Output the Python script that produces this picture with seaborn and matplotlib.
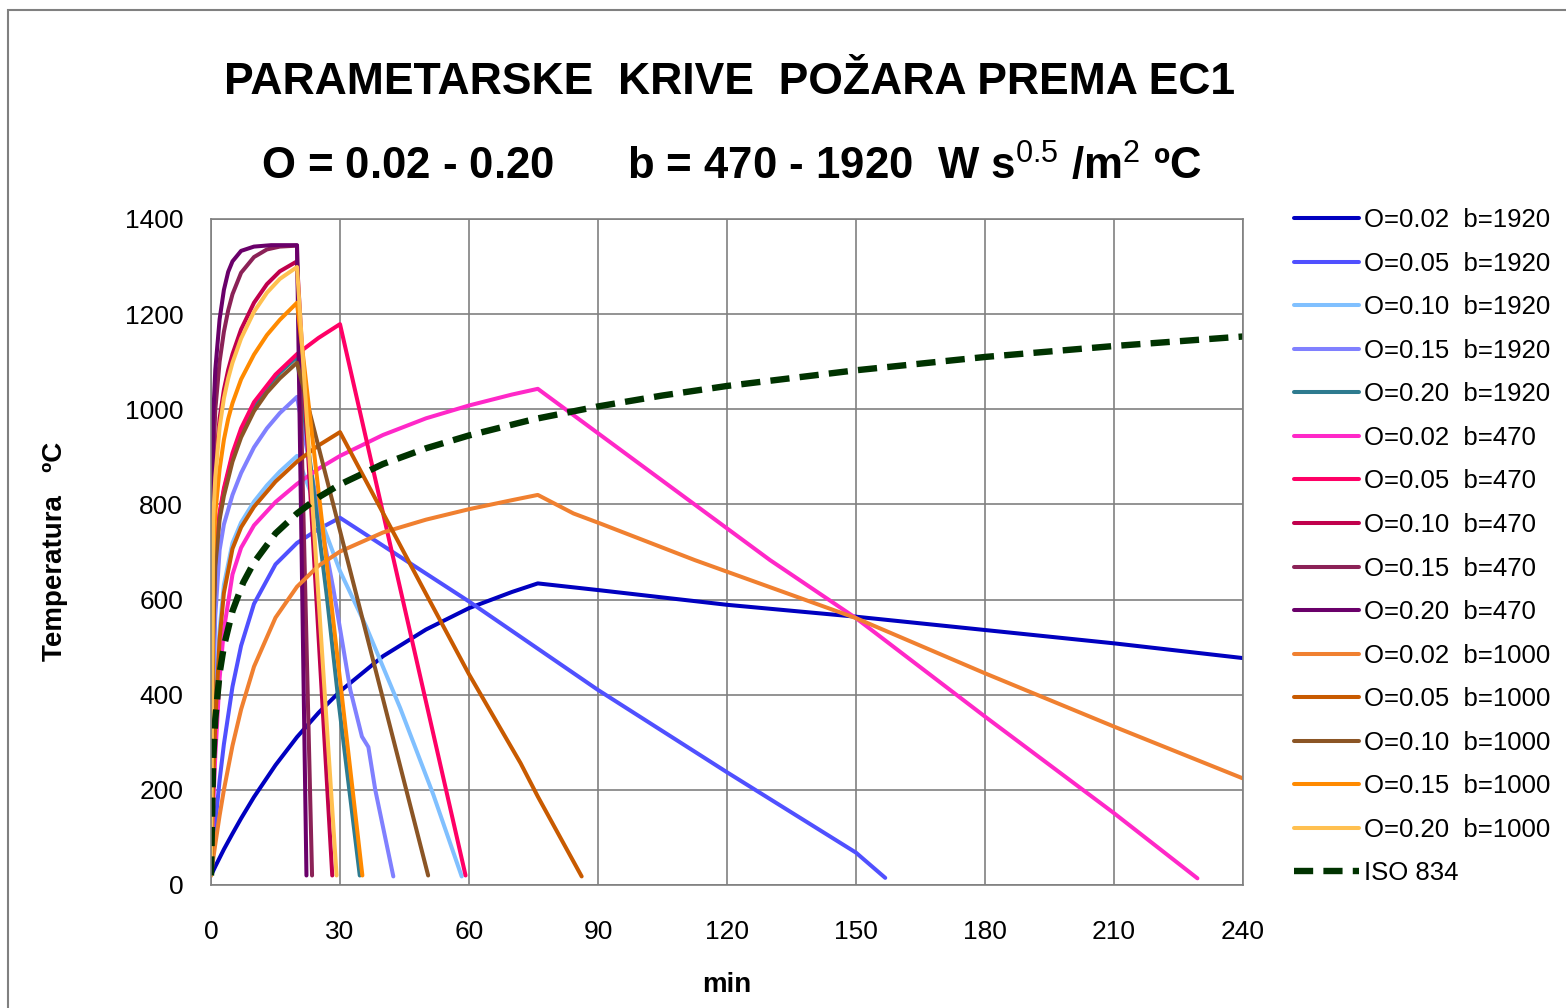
import pandas as pd
import seaborn as sns
import matplotlib.pyplot as plt
from matplotlib.patches import Rectangle

# time (min) / temperature (C)
t_002_1920 = [0, 1, 2, 3, 5, 7, 10, 15, 20, 25, 30, 40, 50, 60, 70, 76, 90, 120, 150, 180, 210, 240]
T_002_1920 = [20, 39, 57, 75, 108, 140, 185, 252, 311, 362, 407, 481, 537, 582, 616, 634, 620, 589, 564, 536, 508, 477]

t_005_1920 = [0, 0.5, 1, 2, 3, 5, 7, 10, 15, 20, 25, 30, 60, 90, 120, 150, 156.8]
T_005_1920 = [20, 77, 129, 220, 296, 417, 503, 591, 674, 719, 748, 772, 596, 410, 237, 68, 15]

t_010_1920 = [0, 0.5, 1, 2, 3, 5, 7, 10, 13, 16, 20, 30, 36, 44, 51.7, 58.3]
T_010_1920 = [20, 220, 362, 537, 631, 719, 762, 806, 840, 869, 902, 660, 545, 372, 190, 18]

t_015_1920 = [0, 0.5, 1, 2, 3, 5, 7, 10, 13, 16, 20, 28.5, 32.4, 35.1, 36.6, 38.2, 42.4]
T_015_1920 = [20, 391, 566, 704, 758, 820, 866, 920, 960, 992, 1026, 620, 410, 312, 290, 200, 18]

t_020_1920 = [0, 0.5, 1, 2, 3, 5, 7, 10, 13, 16, 20, 26.9, 29.6, 34.6]
T_020_1920 = [20, 537, 685, 778, 829, 902, 954, 1008, 1046, 1077, 1110, 610, 390, 20]

t_002_470 = [0, 0.5, 1, 2, 3, 5, 7, 10, 15, 20, 25, 30, 40, 50, 60, 70, 76, 130, 150, 180, 210, 229.4]
T_002_470 = [20, 161, 273, 434, 537, 653, 709, 756, 805, 843, 875, 902, 946, 981, 1008, 1031, 1043, 683, 561, 354, 151, 14]

t_005_470 = [0, 0.5, 1, 2, 3, 5, 7, 10, 15, 20, 25, 30, 59.2]
T_005_470 = [20, 548, 692, 783, 834, 908, 960, 1015, 1073, 1116, 1150, 1179, 20]

t_010_470 = [0, 0.5, 1, 2, 3, 4, 5, 7, 10, 13, 16, 20, 28.2]
T_010_470 = [20, 783, 875, 981, 1041, 1083, 1116, 1168, 1224, 1263, 1290, 1311, 20]

t_015_470 = [0, 0.5, 1, 2, 3, 4, 5, 7, 10, 13, 16, 20, 23.5]
T_015_470 = [20, 893, 999, 1100, 1163, 1208, 1242, 1287, 1320, 1336, 1342, 1344, 20]

t_020_470 = [0, 0.5, 1, 2, 3, 4, 5, 7, 10, 14, 20, 22.2]
T_020_470 = [20, 981, 1083, 1189, 1251, 1289, 1311, 1333, 1342, 1345, 1345, 20]

t_002_1000 = [0, 0.5, 1, 2, 3, 5, 7, 10, 15, 20, 25, 30, 40, 50, 60, 70, 76, 84.3, 90.5, 112.5, 150, 180, 210, 240]
T_002_1000 = [20, 54, 86, 146, 200, 293, 369, 459, 562, 627, 671, 701, 741, 768, 790, 809, 820, 781, 760, 683, 561, 445, 333, 224]

t_005_1000 = [0, 0.5, 1, 2, 3, 5, 7, 10, 15, 20, 25, 30, 40, 50, 60, 72, 76, 86.2]
T_005_1000 = [20, 206, 343, 517, 614, 707, 752, 795, 848, 890, 924, 952, 782, 612, 443, 256, 186, 18]

t_010_1000 = [0, 0.5, 1, 2, 3, 5, 7, 10, 13, 16, 20, 50.5]
T_010_1000 = [20, 517, 671, 768, 818, 890, 941, 996, 1035, 1065, 1098, 20]

t_015_1000 = [0, 0.5, 1, 2, 3, 4, 5, 7, 10, 13, 16, 20, 35.2]
T_015_1000 = [20, 691, 782, 874, 936, 980, 1013, 1063, 1115, 1156, 1188, 1224, 20]

t_020_1000 = [0, 0.5, 1, 2, 3, 4, 5, 7, 10, 13, 16, 20, 29.2]
T_020_1000 = [20, 768, 857, 962, 1023, 1065, 1098, 1149, 1205, 1245, 1274, 1299, 20]

t_iso = [0, 0.5, 1, 2, 3, 5, 7.5, 10, 15, 20, 25, 30, 40, 50, 60, 75, 90, 105, 120, 150, 180, 210, 240]
T_iso = [20, 261, 349, 445, 502, 576, 636, 678, 739, 781, 815, 842, 885, 918, 945, 979, 1006, 1029, 1049, 1082, 1110, 1133, 1153]

series = [
    ("O=0.02  b=1920", t_002_1920, T_002_1920, "#0000C0"),
    ("O=0.05  b=1920", t_005_1920, T_005_1920, "#5050FF"),
    ("O=0.10  b=1920", t_010_1920, T_010_1920, "#80C0FF"),
    ("O=0.15  b=1920", t_015_1920, T_015_1920, "#8080FF"),
    ("O=0.20  b=1920", t_020_1920, T_020_1920, "#2E7B8F"),
    ("O=0.02  b=470", t_002_470, T_002_470, "#FF28C8"),
    ("O=0.05  b=470", t_005_470, T_005_470, "#FF0066"),
    ("O=0.10  b=470", t_010_470, T_010_470, "#C0004C"),
    ("O=0.15  b=470", t_015_470, T_015_470, "#8B2257"),
    ("O=0.20  b=470", t_020_470, T_020_470, "#6A006A"),
    ("O=0.02  b=1000", t_002_1000, T_002_1000, "#F08030"),
    ("O=0.05  b=1000", t_005_1000, T_005_1000, "#C85A00"),
    ("O=0.10  b=1000", t_010_1000, T_010_1000, "#8B5525"),
    ("O=0.15  b=1000", t_015_1000, T_015_1000, "#FF8A00"),
    ("O=0.20  b=1000", t_020_1000, T_020_1000, "#FFC050"),
]

sns.set_theme(style="white")
plt.rcParams['font.family'] = ['Liberation Sans', 'DejaVu Sans']
plt.rcParams['text.color'] = 'black'
plt.rcParams['mathtext.fontset'] = 'custom'
plt.rcParams['mathtext.rm'] = 'Liberation Sans'
plt.rcParams['mathtext.bf'] = 'Liberation Sans:bold'

fig = plt.figure(figsize=(15.66, 10.08), dpi=100)
ax = fig.add_axes([211 / 1566, 1 - 885 / 1008, (1243 - 211) / 1566, (885 - 219) / 1008])

for name, t, T, col in series:
    df = pd.DataFrame({"t": t, "T": T})
    sns.lineplot(data=df, x="t", y="T", ax=ax, color=col, lw=2.9, label=name,
                 sort=False, estimator=None)

iso = pd.DataFrame({"t": t_iso, "T": T_iso})
sns.lineplot(data=iso, x="t", y="T", ax=ax, color="#003300", lw=4.6, label="ISO 834",
             sort=False, estimator=None, dashes=False, linestyle=(0, (3.0, 1.6)))

ax.set_xlim(0, 240)
ax.set_ylim(0, 1400)
ax.set_xticks(range(0, 241, 30))
ax.set_yticks(range(0, 1401, 200))
ax.grid(True, color="#808080", lw=1.2)
ax.set_axisbelow(True)
for s in ax.spines.values():
    s.set_color("#808080")
    s.set_linewidth(1.2)
ax.tick_params(axis="both", labelsize=19, colors="#808080", labelcolor="black",
               direction="out", width=1.2)
ax.tick_params(axis="x", length=11, pad=14)
ax.tick_params(axis="y", length=8, pad=12)
ax.set_xlabel("")
ax.set_ylabel("")

handles, labels = ax.get_legend_handles_labels()
ax.get_legend().remove()
fig.legend(handles, labels, loc="upper left", bbox_to_anchor=(1284 / 1566, 1 - 198 / 1008),
           frameon=False, fontsize=18.5, handlelength=2.5, handletextpad=0.2,
           labelspacing=0.76, borderaxespad=0, labelcolor="black")

fig.text(730 / 1566, 1 - 82 / 1008, "PARAMETARSKE  KRIVE  POŽARA PREMA EC1",
         ha="center", va="center", fontsize=32, fontweight="bold", color="black")
fig.text(731 / 1566, 1 - 167 / 1008,
         r"O = 0.02 - 0.20      b = 470 - 1920  W s$^{\mathrm{0.5}}$ /m$^{\mathrm{2}}$ ºC",
         ha="center", va="center", fontsize=31.5, fontweight="bold", color="black")
fig.text(55 / 1566, 1 - 551 / 1008, "Temperatura   ºC", rotation=90,
         ha="center", va="center", fontsize=20, fontweight="bold", color="black")
fig.text(727 / 1566, 1 - 985 / 1008, "min", ha="center", va="center",
         fontsize=20, fontweight="bold", color="black")

fig.patches.append(Rectangle((8 / 1566, -0.05), 1.1, 1.05 - 10 / 1008,
                             transform=fig.transFigure, fill=False,
                             edgecolor="#808080", lw=1.5))

fig.savefig("out.png", dpi=100)
